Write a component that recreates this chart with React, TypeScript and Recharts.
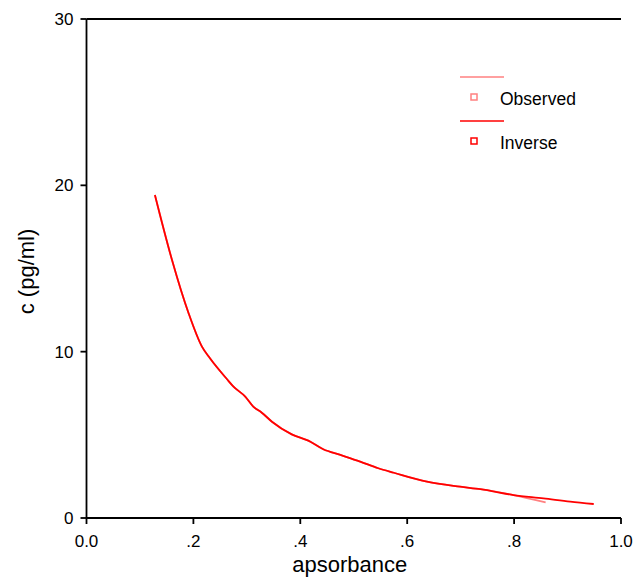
import React from "react"
import { ComposedChart, Line, XAxis, YAxis, Label, ReferenceLine } from "recharts"

// absorbance (x) and concentration (y)
const inverseAbs = [0.128, 0.16, 0.191, 0.216, 0.231, 0.263, 0.275, 0.297, 0.312, 0.328, 0.347, 0.384, 0.415, 0.443, 0.475, 0.512, 0.546, 0.575, 0.637, 0.699, 0.737, 0.799, 0.855, 0.905, 0.949]
const inverseConc = [19.42, 15.51, 12.31, 10.3, 9.6, 8.34, 7.9, 7.3, 6.7, 6.33, 5.79, 5.03, 4.65, 4.13, 3.79, 3.39, 2.99, 2.72, 2.18, 1.88, 1.73, 1.38, 1.18, 0.98, 0.84]

const observedAbs = [0.128, 0.16, 0.191, 0.216, 0.231, 0.263, 0.275, 0.297, 0.312, 0.328, 0.347, 0.384, 0.415, 0.443, 0.475, 0.512, 0.546, 0.575, 0.637, 0.699, 0.737, 0.799, 0.859]
const observedConc = [19.42, 15.51, 12.31, 10.3, 9.6, 8.34, 7.9, 7.3, 6.7, 6.33, 5.79, 5.03, 4.65, 4.13, 3.79, 3.39, 2.99, 2.72, 2.18, 1.88, 1.73, 1.38, 0.94]

const xTicks = [0, 0.2, 0.4, 0.6, 0.8, 1.0]
const xTickLabels = ["0.0", ".2", ".4", ".6", ".8", "1.0"]
const yTicks = [0, 10, 20, 30]

const seriesNames = ["Observed", "Inverse"]
const seriesColors = ["#ff8080", "#ff0000"]

const inverseData = inverseAbs.map((x, i) => ({ x, c: inverseConc[i] }))
const observedData = observedAbs.map((x, i) => ({ x, c: observedConc[i] }))

const FONT = "'Liberation Sans', Arial, sans-serif"

const LegendBox = () => (
  <svg width={140} height={95} style={{ position: "absolute", left: 455, top: 65 }}>
    {seriesNames.map((name, i) => {
      const y0 = 12 + i * 44
      return (
        <g key={name}>
          <line x1={5} x2={49} y1={y0} y2={y0} stroke={seriesColors[i]} strokeWidth={1.5} />
          <rect x={16} y={y0 + 17} width={6} height={6} fill="#fff" stroke={seriesColors[i]} strokeWidth={1.5} />
          <text x={45} y={y0 + 28} fontSize={17.5} fontFamily={FONT} fill="#000">{name}</text>
        </g>
      )
    })}
  </svg>
)

const App = () => {
  return (
    <div style={{ position: "absolute", left: 0, top: 0, width: 642, height: 577, background: "#fff" }}>
      <ComposedChart width={642} height={577} margin={{ top: 19, right: 21, bottom: 0, left: 0 }}>
        <XAxis
          xAxisId="main"
          type="number"
          dataKey="x"
          domain={[0, 1]}
          ticks={xTicks}
          tickFormatter={(v: number) => xTickLabels[xTicks.indexOf(v)] ?? String(v)}
          height={59}
          stroke="#000"
          strokeWidth={1.8}
          tickSize={6}
          tickMargin={11}
          tick={{ fill: "#000", fontSize: 17, fontFamily: FONT }}
          allowDataOverflow
        >
          <Label
            content={(props: any) => {
              const vb = props.viewBox
              return (
                <text x={vb.x + vb.width / 2 - 4} y={572} textAnchor="middle" fontSize={22} fontFamily={FONT} fill="#000">
                  apsorbance
                </text>
              )
            }}
          />
        </XAxis>
        <YAxis
          yAxisId="main"
          type="number"
          domain={[0, 30]}
          ticks={yTicks}
          width={86.5}
          stroke="#000"
          strokeWidth={1.8}
          tickSize={6}
          tickMargin={7}
          tick={{ fill: "#000", fontSize: 17, fontFamily: FONT }}
          allowDataOverflow
        >
          <Label
            content={(props: any) => {
              const vb = props.viewBox
              const cy = vb.y + vb.height / 2 + 3
              return (
                <text x={34} y={cy} transform={`rotate(-90, 34, ${cy})`} textAnchor="middle" fontSize={22} fontFamily={FONT} fill="#000">
                  c (pg/ml)
                </text>
              )
            }}
          />
        </YAxis>
        <YAxis yAxisId="right" orientation="right" domain={[0, 30]} width={0} tick={false} tickLine={false} stroke="#000" strokeWidth={1.8} />
        <ReferenceLine xAxisId="main" yAxisId="main" y={30} stroke="#000" strokeWidth={1.8} ifOverflow="visible" />
        <Line
          xAxisId="main"
          yAxisId="main"
          data={observedData}
          dataKey="c"
          name={seriesNames[0]}
          type="monotone"
          stroke={seriesColors[0]}
          strokeWidth={1.8}
          dot={false}
          isAnimationActive={false}
        />
        <Line
          xAxisId="main"
          yAxisId="main"
          data={inverseData}
          dataKey="c"
          name={seriesNames[1]}
          type="monotone"
          stroke={seriesColors[1]}
          strokeWidth={1.8}
          dot={false}
          isAnimationActive={false}
        />
      </ComposedChart>
      <LegendBox />
    </div>
  )
}

export default App
